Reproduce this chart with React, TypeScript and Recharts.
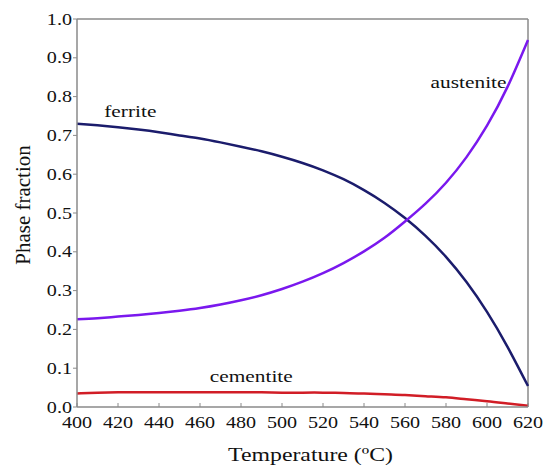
import React from 'react';
import { LineChart, Line, XAxis, YAxis, ReferenceLine, ReferenceDot } from 'recharts';

const temperatures = [400, 410, 420, 430, 440, 450, 460, 470, 480, 490, 500, 510, 520, 530, 540, 550, 560, 570, 580, 590, 600, 610, 620];
const ferrite = [0.730, 0.726, 0.721, 0.715, 0.708, 0.700, 0.692, 0.682, 0.671, 0.659, 0.645, 0.629, 0.610, 0.587, 0.559, 0.526, 0.487, 0.441, 0.387, 0.322, 0.245, 0.155, 0.054];
const austenite = [0.226, 0.229, 0.233, 0.237, 0.242, 0.248, 0.255, 0.264, 0.275, 0.288, 0.304, 0.323, 0.345, 0.371, 0.401, 0.436, 0.478, 0.524, 0.578, 0.644, 0.725, 0.825, 0.946];
const cementite = [0.035, 0.037, 0.038, 0.038, 0.038, 0.038, 0.038, 0.038, 0.038, 0.038, 0.037, 0.037, 0.037, 0.036, 0.035, 0.033, 0.031, 0.028, 0.025, 0.020, 0.015, 0.009, 0.003];

const xTicks = [400, 420, 440, 460, 480, 500, 520, 540, 560, 580, 600, 620];
const yTicks = [0, 0.1, 0.2, 0.3, 0.4, 0.5, 0.6, 0.7, 0.8, 0.9, 1.0];

const phaseLabels = [
  { name: 'ferrite', t: 426, v: 0.748 },
  { name: 'austenite', t: 591, v: 0.822 },
  { name: 'cementite', t: 485, v: 0.065 },
];

const data = temperatures.map((t, i) => ({
  t,
  ferrite: ferrite[i],
  austenite: austenite[i],
  cementite: cementite[i],
}));

const FONT = '"Liberation Serif", "Times New Roman", Times, serif';
const SX = 1.22;
const GRAY = '#8a8a8a';
const textStyle = { fontFamily: FONT };

const XTick = (props: any) => {
  const { x, y, payload } = props;
  return (
    <g>
      <line x1={x} x2={x} y1={y} y2={y - 4} stroke={GRAY} strokeWidth={1} />
      <text
        transform={`translate(${x},${y + 21}) scale(${SX},1)`}
        textAnchor="middle"
        style={textStyle}
        fontSize={16.5}
        fill="#111"
      >
        {payload.value}
      </text>
    </g>
  );
};

const YTick = (props: any) => {
  const { x, y, payload } = props;
  return (
    <text
      transform={`translate(${x + 1},${y + 5.5}) scale(${SX},1)`}
      textAnchor="end"
      style={textStyle}
      fontSize={16.5}
      fill="#111"
    >
      {Number(payload.value).toFixed(1)}
    </text>
  );
};

const XTitle = (props: any) => {
  const vb = props.viewBox;
  const cx = vb.x + vb.width / 2 + 8;
  return (
    <text
      transform={`translate(${cx},${vb.y + 54}) scale(${SX},1)`}
      textAnchor="middle"
      style={textStyle}
      fontSize={19.5}
      fill="#111"
    >
      Temperature (ºC)
    </text>
  );
};

const YTitle = (props: any) => {
  const vb = props.viewBox;
  const cy = vb.y + vb.height / 2 - 8;
  return (
    <text
      transform={`translate(30,${cy}) rotate(-90)`}
      textAnchor="middle"
      style={textStyle}
      fontSize={21}
      fill="#111"
    >
      Phase fraction
    </text>
  );
};

const makeAnno = (text: string) => (props: any) => {
  const vb = props.viewBox;
  return (
    <text
      transform={`translate(${vb.x},${vb.y}) scale(${SX},1)`}
      textAnchor="middle"
      style={textStyle}
      fontSize={17.5}
      fill="#111"
    >
      {text}
    </text>
  );
};

export default function App() {
  return (
    <div style={{ position: 'absolute', left: 0, top: 0, background: '#fff' }}>
      <LineChart
        width={544}
        height={467}
        data={data}
        margin={{ top: 19, right: 16, left: 0, bottom: 0 }}
      >
        <XAxis
          dataKey="t"
          type="number"
          domain={[400, 620]}
          ticks={xTicks}
          interval={0}
          height={60}
          tickSize={0}
          tickMargin={0}
          tickLine={false}
          axisLine={{ stroke: GRAY, strokeWidth: 1.5 }}
          tick={<XTick />}
          label={<XTitle />}
        />
        <YAxis
          type="number"
          domain={[0, 1]}
          ticks={yTicks}
          interval={0}
          width={77}
          tickSize={4}
          tickMargin={2}
          tickLine={{ stroke: GRAY }}
          axisLine={{ stroke: GRAY, strokeWidth: 1.5 }}
          tick={<YTick />}
          label={<YTitle />}
        />
        <ReferenceLine y={1} stroke={GRAY} strokeWidth={1.5} ifOverflow="visible" />
        <ReferenceLine x={620} stroke={GRAY} strokeWidth={1.5} ifOverflow="visible" />
        <Line type="natural" dataKey="ferrite" stroke="#1b1c6c" strokeWidth={2.5} dot={false} isAnimationActive={false} />
        <Line type="natural" dataKey="austenite" stroke="#7a18ee" strokeWidth={2.5} dot={false} isAnimationActive={false} />
        <Line type="natural" dataKey="cementite" stroke="#d11d26" strokeWidth={2.5} dot={false} isAnimationActive={false} />
        {phaseLabels.map((p) => (
          <ReferenceDot
            key={p.name}
            x={p.t}
            y={p.v}
            r={0}
            fill="none"
            stroke="none"
            ifOverflow="visible"
            label={makeAnno(p.name)}
          />
        ))}
      </LineChart>
    </div>
  );
}
